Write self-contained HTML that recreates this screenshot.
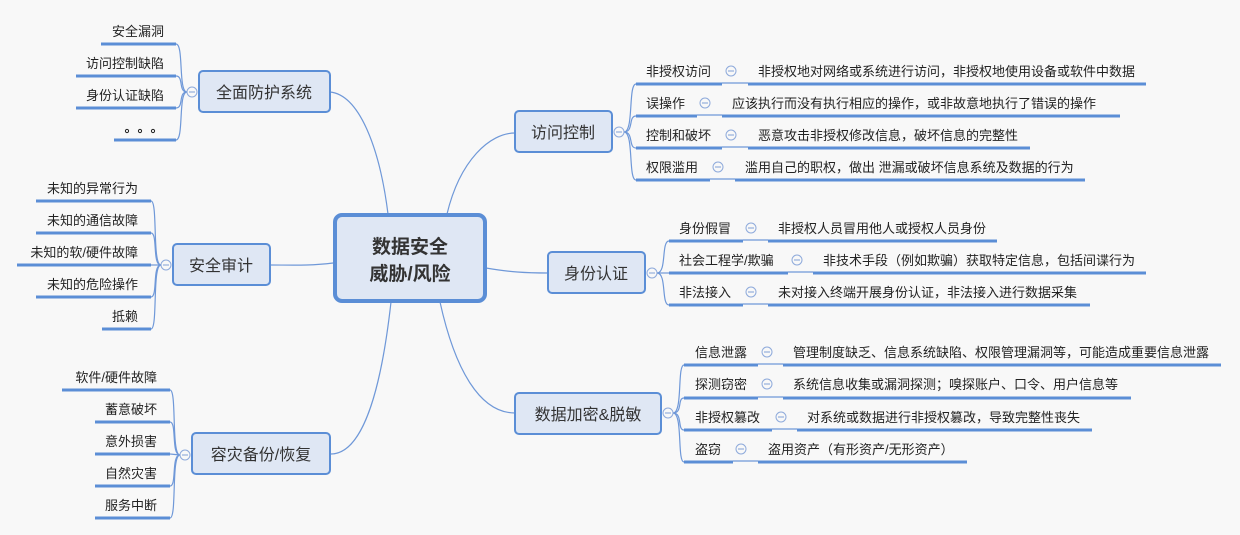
<!DOCTYPE html>
<html><head><meta charset="utf-8"><style>
html,body{margin:0;padding:0;background:#f8f8f8;}
svg{display:block;font-family:"Liberation Sans","Noto Sans CJK SC",sans-serif;}
.lf{font-size:13px;fill:#222;}
.bx{fill:#dfe7f4;stroke:#5b8ed6;stroke-width:2;}
.bt{font-size:16px;fill:#333;text-anchor:middle;}
.ul{stroke:#5b8ed6;stroke-width:3;}
.cn{fill:none;stroke:#6f98d8;stroke-width:1.2;}
.ci{fill:#f8f8f8;stroke:#8eaadb;stroke-width:1;}
.mi{stroke:#7f9fd6;stroke-width:1;}
.r{text-anchor:end;}
</style></head><body>
<svg width="1240" height="535" viewBox="0 0 1240 535">
<path class="cn" d="M388,214 C380,150 360,95 330,92"/>
<path class="cn" d="M333,263 C310,266 290,265 270,265"/>
<path class="cn" d="M391,302 C380,400 360,455 330,454"/>
<path class="cn" d="M447,214 C460,160 490,133 515,133"/>
<path class="cn" d="M486,268 C510,272 525,273 548,273"/>
<path class="cn" d="M440,302 C455,370 480,413 515,413"/>

<rect x="335" y="215" width="150" height="86" rx="7" fill="#dfe7f4" stroke="#5b8ed6" stroke-width="4"/>
<text x="410" y="253" font-size="19" font-weight="bold" fill="#333" text-anchor="middle">数据安全</text>
<text x="410" y="280" font-size="19" font-weight="bold" fill="#333" text-anchor="middle">威胁/风险</text>

<rect class="bx" x="199" y="71" width="131" height="41" rx="4"/>
<text class="bt" x="264" y="98">全面防护系统</text>
<path class="cn" d="M187,92 C178,92 184,44 176,44"/>
<path class="cn" d="M187,92 C178,92 184,76 176,76"/>
<path class="cn" d="M187,92 C178,92 184,108 176,108"/>
<path class="cn" d="M187,92 C178,92 184,140 176,140"/>
<line class="ul" x1="101" y1="44" x2="176" y2="44"/>
<line class="ul" x1="76" y1="76" x2="176" y2="76"/>
<line class="ul" x1="76" y1="108" x2="176" y2="108"/>
<line class="ul" x1="114" y1="140" x2="176" y2="140"/>
<text class="lf r" x="164" y="36">安全漏洞</text>
<text class="lf r" x="164" y="68">访问控制缺陷</text>
<text class="lf r" x="164" y="100">身份认证缺陷</text>
<circle cx="127" cy="131" r="1.6" fill="none" stroke="#222" stroke-width="1"/>
<circle cx="140" cy="131" r="1.6" fill="none" stroke="#222" stroke-width="1"/>
<circle cx="153" cy="131" r="1.6" fill="none" stroke="#222" stroke-width="1"/>
<circle class="ci" cx="192" cy="92" r="5"/><line class="mi" x1="189" y1="92" x2="195" y2="92"/>

<rect class="bx" x="173" y="244" width="97" height="41" rx="4"/>
<text class="bt" x="221" y="271">安全审计</text>
<path class="cn" d="M161,265 C152,265 158,201 151,201"/>
<path class="cn" d="M161,265 C152,265 158,233 151,233"/>
<path class="cn" d="M161,265 L151,265"/>
<path class="cn" d="M161,265 C152,265 158,297 151,297"/>
<path class="cn" d="M161,265 C152,265 158,329 151,329"/>
<line class="ul" x1="36" y1="201" x2="151" y2="201"/>
<line class="ul" x1="36" y1="233" x2="151" y2="233"/>
<line class="ul" x1="17" y1="265" x2="151" y2="265"/>
<line class="ul" x1="36" y1="297" x2="151" y2="297"/>
<line class="ul" x1="102" y1="329" x2="151" y2="329"/>
<text class="lf r" x="138" y="193">未知的异常行为</text>
<text class="lf r" x="138" y="225">未知的通信故障</text>
<text class="lf r" x="138" y="257">未知的软/硬件故障</text>
<text class="lf r" x="138" y="289">未知的危险操作</text>
<text class="lf r" x="138" y="321">抵赖</text>
<circle class="ci" cx="166" cy="265" r="5"/><line class="mi" x1="163" y1="265" x2="169" y2="265"/>

<rect class="bx" x="192" y="433" width="138" height="41" rx="4"/>
<text class="bt" x="261" y="460">容灾备份/恢复</text>
<path class="cn" d="M180,455 C171,455 177,390 170,390"/>
<path class="cn" d="M180,455 C171,455 177,422 170,422"/>
<path class="cn" d="M180,455 L170,454"/>
<path class="cn" d="M180,455 C171,455 177,486 170,486"/>
<path class="cn" d="M180,455 C171,455 177,518 170,518"/>
<line class="ul" x1="62" y1="390" x2="170" y2="390"/>
<line class="ul" x1="95" y1="422" x2="170" y2="422"/>
<line class="ul" x1="95" y1="454" x2="170" y2="454"/>
<line class="ul" x1="95" y1="486" x2="170" y2="486"/>
<line class="ul" x1="95" y1="518" x2="170" y2="518"/>
<text class="lf r" x="157" y="382">软件/硬件故障</text>
<text class="lf r" x="157" y="414">蓄意破坏</text>
<text class="lf r" x="157" y="446">意外损害</text>
<text class="lf r" x="157" y="478">自然灾害</text>
<text class="lf r" x="157" y="510">服务中断</text>
<circle class="ci" cx="185" cy="455" r="5"/><line class="mi" x1="182" y1="455" x2="188" y2="455"/>

<rect class="bx" x="515" y="111" width="97" height="41" rx="4"/>
<text class="bt" x="563" y="138">访问控制</text>
<path class="cn" d="M624,132 C634,132 628,84 636,84"/>
<path class="cn" d="M624,132 C634,132 628,116 636,116"/>
<path class="cn" d="M624,132 C634,132 628,148 636,148"/>
<path class="cn" d="M624,132 C634,132 628,180 636,180"/>
<circle class="ci" cx="619" cy="132" r="5"/><line class="mi" x1="616" y1="132" x2="622" y2="132"/>

<line class="ul" x1="636" y1="84" x2="722" y2="84"/><line class="cn" x1="722" y1="83" x2="748" y2="83"/><line class="ul" x1="748" y1="84" x2="1146" y2="84"/>
<text class="lf" x="646" y="76">非授权访问</text>
<circle class="ci" cx="731" cy="71" r="5"/><line class="mi" x1="728" y1="71" x2="734" y2="71"/>
<text class="lf" x="758" y="76">非授权地对网络或系统进行访问，非授权地使用设备或软件中数据</text>

<line class="ul" x1="636" y1="116" x2="697" y2="116"/><line class="cn" x1="697" y1="115" x2="722" y2="115"/><line class="ul" x1="722" y1="116" x2="1120" y2="116"/>
<text class="lf" x="646" y="108">误操作</text>
<circle class="ci" cx="705" cy="103" r="5"/><line class="mi" x1="702" y1="103" x2="708" y2="103"/>
<text class="lf" x="732" y="108">应该执行而没有执行相应的操作，或非故意地执行了错误的操作</text>

<line class="ul" x1="636" y1="148" x2="722" y2="148"/><line class="cn" x1="722" y1="147" x2="748" y2="147"/><line class="ul" x1="748" y1="148" x2="1030" y2="148"/>
<text class="lf" x="646" y="140">控制和破坏</text>
<circle class="ci" cx="731" cy="135" r="5"/><line class="mi" x1="728" y1="135" x2="734" y2="135"/>
<text class="lf" x="758" y="140">恶意攻击非授权修改信息，破坏信息的完整性</text>

<line class="ul" x1="636" y1="180" x2="710" y2="180"/><line class="cn" x1="710" y1="179" x2="735" y2="179"/><line class="ul" x1="735" y1="180" x2="1085" y2="180"/>
<text class="lf" x="646" y="172">权限滥用</text>
<circle class="ci" cx="718" cy="167" r="5"/><line class="mi" x1="715" y1="167" x2="721" y2="167"/>
<text class="lf" x="745" y="172">滥用自己的职权，做出 泄漏或破坏信息系统及数据的行为</text>

<rect class="bx" x="548" y="252" width="97" height="41" rx="4"/>
<text class="bt" x="596" y="279">身份认证</text>
<path class="cn" d="M657,273 C667,273 661,241 669,241"/>
<path class="cn" d="M657,273 L669,273"/>
<path class="cn" d="M657,273 C667,273 661,305 669,305"/>
<circle class="ci" cx="652" cy="273" r="5"/><line class="mi" x1="649" y1="273" x2="655" y2="273"/>

<line class="ul" x1="669" y1="241" x2="743" y2="241"/><line class="cn" x1="743" y1="240" x2="768" y2="240"/><line class="ul" x1="768" y1="241" x2="997" y2="241"/>
<text class="lf" x="679" y="233">身份假冒</text>
<circle class="ci" cx="751" cy="228" r="5"/><line class="mi" x1="748" y1="228" x2="754" y2="228"/>
<text class="lf" x="778" y="233">非授权人员冒用他人或授权人员身份</text>

<line class="ul" x1="669" y1="273" x2="788" y2="273"/><line class="cn" x1="788" y1="272" x2="813" y2="272"/><line class="ul" x1="813" y1="273" x2="1146" y2="273"/>
<text class="lf" x="679" y="265">社会工程学/欺骗</text>
<circle class="ci" cx="797" cy="260" r="5"/><line class="mi" x1="794" y1="260" x2="800" y2="260"/>
<text class="lf" x="823" y="265">非技术手段（例如欺骗）获取特定信息，包括间谍行为</text>

<line class="ul" x1="669" y1="305" x2="743" y2="305"/><line class="cn" x1="743" y1="304" x2="768" y2="304"/><line class="ul" x1="768" y1="305" x2="1090" y2="305"/>
<text class="lf" x="679" y="297">非法接入</text>
<circle class="ci" cx="751" cy="292" r="5"/><line class="mi" x1="748" y1="292" x2="754" y2="292"/>
<text class="lf" x="778" y="297">未对接入终端开展身份认证，非法接入进行数据采集</text>

<rect class="bx" x="515" y="393" width="146" height="41" rx="4"/>
<text class="bt" x="588" y="420">数据加密&amp;脱敏</text>
<path class="cn" d="M673,413 C683,413 677,365 684,365"/>
<path class="cn" d="M673,413 C683,413 677,398 684,398"/>
<path class="cn" d="M673,413 C683,413 677,430 684,430"/>
<path class="cn" d="M673,413 C683,413 677,462 684,462"/>
<circle class="ci" cx="668" cy="413" r="5"/><line class="mi" x1="665" y1="413" x2="671" y2="413"/>

<line class="ul" x1="684" y1="365" x2="758" y2="365"/><line class="cn" x1="758" y1="364" x2="783" y2="364"/><line class="ul" x1="783" y1="365" x2="1221" y2="365"/>
<text class="lf" x="695" y="357">信息泄露</text>
<circle class="ci" cx="767" cy="352" r="5"/><line class="mi" x1="764" y1="352" x2="770" y2="352"/>
<text class="lf" x="793" y="357">管理制度缺乏、信息系统缺陷、权限管理漏洞等，可能造成重要信息泄露</text>

<line class="ul" x1="684" y1="398" x2="758" y2="398"/><line class="cn" x1="758" y1="397" x2="783" y2="397"/><line class="ul" x1="783" y1="398" x2="1131" y2="398"/>
<text class="lf" x="695" y="389">探测窃密</text>
<circle class="ci" cx="767" cy="384" r="5"/><line class="mi" x1="764" y1="384" x2="770" y2="384"/>
<text class="lf" x="793" y="389">系统信息收集或漏洞探测；嗅探账户、口令、用户信息等</text>

<line class="ul" x1="684" y1="430" x2="772" y2="430"/><line class="cn" x1="772" y1="429" x2="797" y2="429"/><line class="ul" x1="797" y1="430" x2="1092" y2="430"/>
<text class="lf" x="695" y="422">非授权篡改</text>
<circle class="ci" cx="781" cy="417" r="5"/><line class="mi" x1="778" y1="417" x2="784" y2="417"/>
<text class="lf" x="807" y="422">对系统或数据进行非授权篡改，导致完整性丧失</text>

<line class="ul" x1="684" y1="462" x2="733" y2="462"/><line class="cn" x1="733" y1="461" x2="758" y2="461"/><line class="ul" x1="758" y1="462" x2="967" y2="462"/>
<text class="lf" x="695" y="454">盗窃</text>
<circle class="ci" cx="741" cy="449" r="5"/><line class="mi" x1="738" y1="449" x2="744" y2="449"/>
<text class="lf" x="768" y="454">盗用资产（有形资产/无形资产）</text>
</svg>
</body></html>
